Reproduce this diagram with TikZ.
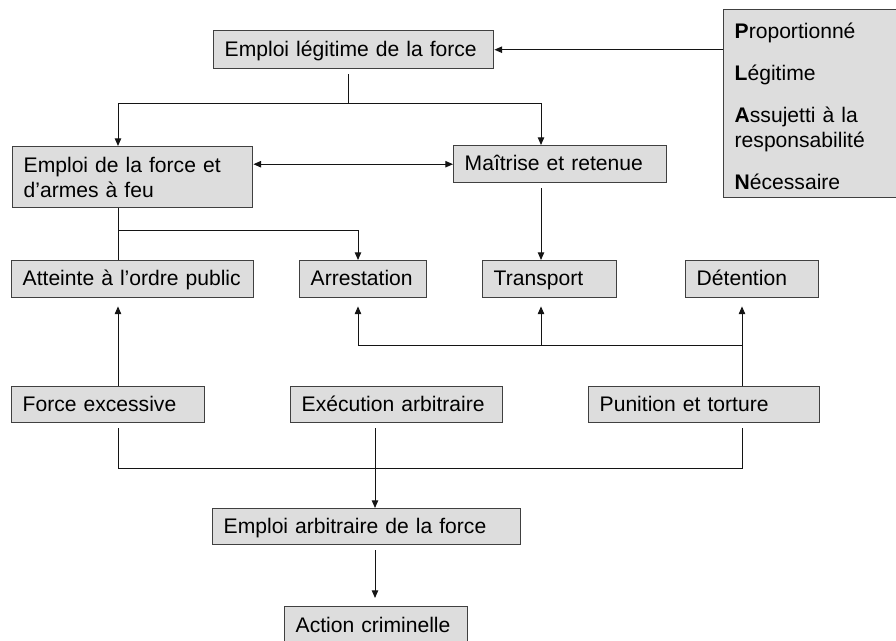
\documentclass[tikz,border=0pt]{standalone}
\usepackage{fontspec}
\setmainfont{Liberation Sans}
\usepackage{tikz}
\usetikzlibrary{arrows.meta}
\definecolor{panelFill}{RGB}{221,221,221}
\definecolor{panelEdge}{RGB}{64,64,64}
\definecolor{lineInk}{RGB}{20,20,20}
\newlength\pxu
\setlength\pxu{0.025cm}
\hyphenpenalty=10000

\begin{document}
\begin{tikzpicture}[x=0.025cm, y=-0.025cm,
    box/.style 2 args={draw=panelEdge, fill=panelFill, line width=1pt, anchor=north west,
      inner xsep=11\pxu, inner ysep=0pt, align=left,
      minimum width=#1\pxu, text width=#1\pxu-22\pxu, minimum height=#2\pxu,
      text height=12pt, text depth=3pt,
      font=\fontsize{15pt}{17.8pt}\selectfont},
    wire/.style={line width=0.7pt, draw=lineInk},
    arrow/.style={wire, -{Triangle[length=5.5pt, width=4.6pt]}},
    twoway/.style={wire, {Triangle[length=5.5pt, width=4.6pt]}-{Triangle[length=5.5pt, width=4.6pt]}}
  ]
    \useasboundingbox (0,0) rectangle (896,640);

    \coordinate (colA) at (118,0);
    \coordinate (colC) at (358,0);
    \coordinate (colD) at (541,0);
    \coordinate (colE) at (742,0);
    \coordinate (colF) at (375,0);
    \coordinate (bus1) at (348,103);
    \coordinate (bus2) at (118,230);
    \coordinate (bus3) at (742,345);
    \coordinate (bus4) at (118,468);

    \node[box={280}{38}] (legit) at (213,30) {Emploi légitime de la force};
    \node[box={240}{61}, text height=14.4pt, text depth=20.8pt] (armes) at (12,146) {Emploi de la force et\\d’armes à feu};
    \node[box={213}{37}] (maitrise) at (453,145) {Maîtrise et retenue};
    \node[box={190}{188}, text height=18pt, text depth=110.7pt] (plan) at (723,9) {\textbf{P}roportionné\\[12pt]
      \textbf{L}égitime\\[12pt]
      \textbf{A}ssujetti à la\\responsabilité\\[12pt]
      \textbf{N}écessaire};
    \node[box={242}{37}] (ordre) at (11,260) {Atteinte à l’ordre public};
    \node[box={127}{37}] (arrest) at (299,260) {Arrestation};
    \node[box={134}{37}] (transp) at (482,260) {Transport};
    \node[box={133}{37}] (detent) at (685,260) {Détention};
    \node[box={193}{36}] (excess) at (11,386) {Force excessive};
    \node[box={212}{36}] (execut) at (290,386) {Exécution arbitraire};
    \node[box={231}{36}] (punit) at (588,386) {Punition et torture};
    \node[box={308}{36}] (arbitr) at (212,508) {Emploi arbitraire de la force};
    \node[box={183}{38}] (crime) at (284,606) {Action criminelle};

    \draw[arrow] (plan.west |- legit.east) -- (legit.east);
    \draw[wire, shorten <=5\pxu] (legit.south -| bus1) -- (bus1);
    \draw[arrow] (bus1) -| (armes.north -| colA);
    \draw[arrow] (bus1) -| (maitrise.north -| colD);
    \draw[twoway] (armes.east |- maitrise.west) -- (maitrise.west);
    \draw[wire] (armes.south -| colA) -- (ordre.north -| colA);
    \draw[arrow] (bus2) -| (arrest.north -| colC);
    \draw[arrow, shorten <=5\pxu] (maitrise.south -| colD) -- (transp.north -| colD);
    \draw[arrow, shorten >=8\pxu] (excess.north -| colA) -- (ordre.south -| colA);
    \draw[arrow, shorten >=8\pxu] (punit.north -| colE) -- (detent.south -| colE);
    \draw[arrow, shorten >=8\pxu] (bus3) -| (transp.south -| colD);
    \draw[arrow, shorten >=8\pxu] (bus3) -| (arrest.south -| colC);
    \draw[wire, shorten <=5\pxu, shorten >=5\pxu] (excess.south -| colA) -- (bus4) -| (punit.south -| colE);
    \draw[arrow, shorten <=5\pxu] (execut.south -| colF) -- (arbitr.north -| colF);
    \draw[arrow, shorten <=5\pxu, shorten >=8\pxu] (arbitr.south -| colF) -- (crime.north -| colF);
  \end{tikzpicture}
\end{document}
